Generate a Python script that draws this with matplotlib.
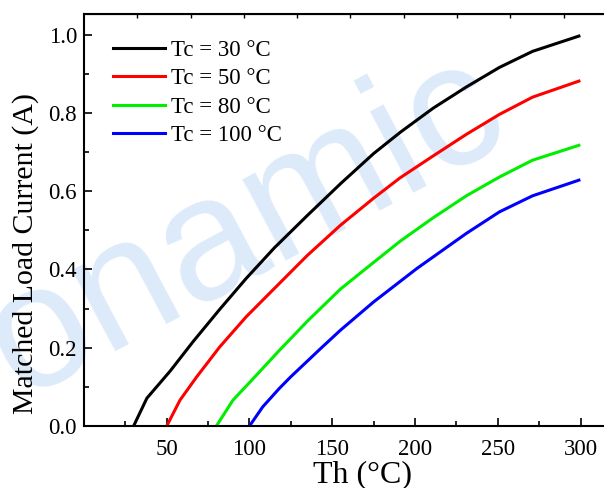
import matplotlib
matplotlib.use("Agg")
import matplotlib.pyplot as plt
import numpy as np

# Th (°C) vs matched load current (A)
th_30 = [30, 38, 52, 66, 82, 98, 115, 135, 155, 175, 191, 211, 231, 251, 271, 299]
i_30 = [0.0, 0.071, 0.140, 0.216, 0.298, 0.377, 0.455, 0.538, 0.619, 0.696,
        0.750, 0.812, 0.866, 0.916, 0.957, 0.996]

th_50 = [50, 58, 68, 82, 98, 114, 135, 155, 175, 191, 211, 231, 251, 271, 299]
i_50 = [0.0, 0.066, 0.125, 0.202, 0.279, 0.347, 0.436, 0.513, 0.582, 0.634,
        0.690, 0.745, 0.796, 0.840, 0.881]

th_80 = [80, 90, 102, 118, 135, 155, 175, 191, 211, 231, 251, 271, 299]
i_80 = [0.0, 0.066, 0.120, 0.193, 0.268, 0.350, 0.418, 0.472, 0.532, 0.588,
        0.636, 0.679, 0.717]

th_100 = [100, 108, 118, 125, 143, 155, 175, 201, 231, 251, 271, 299]
i_100 = [0.0, 0.049, 0.096, 0.126, 0.198, 0.245, 0.317, 0.402, 0.492, 0.547,
         0.588, 0.628]

labels = ["Tc = 30 °C", "Tc = 50 °C", "Tc = 80 °C", "Tc = 100 °C"]
colors = ["#000000", "#ff0000", "#00ee00", "#0000ff"]

plt.rcParams["font.family"] = ["Liberation Serif", "DejaVu Serif"]

fig = plt.figure(figsize=(6.04, 4.88), dpi=100)
ax = fig.add_axes([0.139, 0.127, 0.8825, 0.844])
ax.set_facecolor("none")

# watermark behind everything
fig.text(0.407, 0.535, "onamic", fontsize=125, color="#dceafa",
         family="Liberation Sans", rotation=28, ha="center", va="center",
         zorder=-1)

series = [(th_30, i_30), (th_50, i_50), (th_80, i_80), (th_100, i_100)]
for (x, y), lab, c in zip(series, labels, colors):
    ax.plot(x, y, color=c, lw=2.2, label=lab)

ax.set_xlim(0, 322)
ax.set_ylim(0, 1.052)
ax.set_xticks([50, 100, 150, 200, 250, 300])
ax.set_xticks([25, 75, 125, 175, 225, 275], minor=True)
ax.set_yticks([0.0, 0.2, 0.4, 0.6, 0.8, 1.0])
ax.set_yticks([0.1, 0.3, 0.5, 0.7, 0.9], minor=True)
ax.set_yticklabels(["0.0", "0.2", "0.4", "0.6", "0.8", "1.0"])

ax.tick_params(which="both", direction="in", width=1.2, labelsize=16.5,
               top=False, right=False)
ax.tick_params(which="major", length=6)
ax.tick_params(which="minor", length=3.5)
ax.tick_params(axis="x", pad=9)
ax.tick_params(axis="y", pad=5)
for s in ax.spines.values():
    s.set_linewidth(1.5)

top = ax.secondary_xaxis("top")
top.set_xticks(np.arange(1, 10) * 32.2)
top.set_xticklabels([])
top.tick_params(direction="in", length=3, width=1.0)

ax.set_xlabel("Th (°C)", fontsize=23)
ax.set_ylabel("Matched Load Current (A)", fontsize=21.5)
ax.xaxis.set_label_coords(0.522, -0.082)
ax.yaxis.set_label_coords(-0.084, 0.42)

ax.legend(loc="upper left", bbox_to_anchor=(0.187, 0.918),
          bbox_transform=fig.transFigure, frameon=False, fontsize=16.5,
          handlelength=2.25, handletextpad=0.3, labelspacing=0.32,
          borderpad=0, borderaxespad=0)

plt.savefig("out.png", dpi=100)
